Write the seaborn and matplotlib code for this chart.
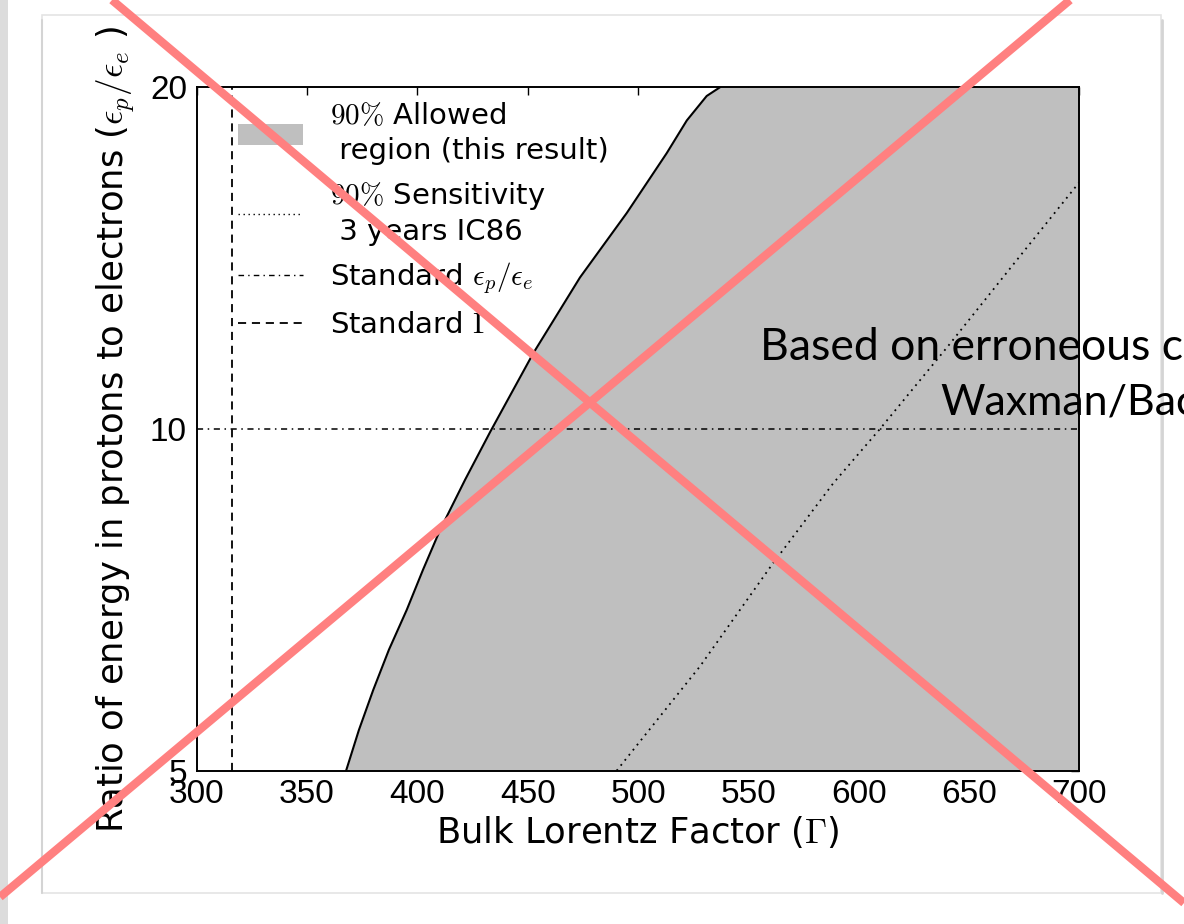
import numpy as np
import pandas as pd
import matplotlib
matplotlib.use("Agg")
import matplotlib.pyplot as plt
import seaborn as sns
from matplotlib.lines import Line2D
from matplotlib.patches import Patch, Rectangle

# ---------------- data ----------------
allowed_gamma = [367.7, 373.5, 380.0, 387.1, 395.2, 402.6, 410.3, 421.6, 433.1,
                 452.5, 473.7, 494.9, 513.0, 522.1, 531.1, 537.1]
allowed_ratio = [5.0, 5.43, 5.89, 6.39, 6.93, 7.52, 8.15, 9.02, 9.95,
                 11.66, 13.6, 15.5, 17.5, 18.7, 19.65, 20.0]

sens_gamma = [490.3, 500.0, 528.1, 560.6, 588.5, 609.6, 640.0, 670.0, 700.0]
sens_ratio = [5.0, 5.28, 6.18, 7.59, 8.96, 10.0, 11.8, 13.96, 16.5]

standard_ratio = 10.0
standard_gamma = 316.0

x_ticks = [300, 350, 400, 450, 500, 550, 600, 650, 700]
y_ticks = [5, 10, 20]
y_tick_labels = ["5", "10", "20"]

legend_labels = [
    "$90\\%$ Allowed\n region (this result)",
    "$90\\%$ Sensitivity\n 3 years IC86",
    "Standard $\\epsilon_p/\\epsilon_e$",
    "Standard $\\Gamma$",
]
x_label = "Bulk Lorentz Factor ($\\Gamma$)"
y_label = "Ratio of energy in protons to electrons ($\\epsilon_p/\\epsilon_e$ )"
slide_lines = ["Based on erroneous c", "Waxman/Bac"]

# ---------------- style ----------------
sns.set_theme(style="white")
plt.rcParams["font.family"] = ["Liberation Sans", "DejaVu Sans"]
plt.rcParams["mathtext.fontset"] = "cm"
label_family = ["DejaVu Sans"]

W, H = 1184, 924
fig = plt.figure(figsize=(W / 100, H / 100), dpi=100)
fig.patch.set_facecolor("white")

def fx(px):
    return px / W

def fy(py):
    return 1 - py / H

ax = fig.add_axes([fx(196.7), fy(770.7), fx(1079.4) - fx(196.7), fy(87.3) - fy(770.7)])
ax.set_facecolor("white")

allowed = pd.DataFrame({"gamma": allowed_gamma, "ratio": allowed_ratio})
sens = pd.DataFrame({"gamma": sens_gamma, "ratio": sens_ratio})

fill_color = "#bfbfbf"
ax.fill_betweenx(allowed["ratio"], allowed["gamma"], 700, color=fill_color, lw=0, zorder=1)
sns.lineplot(data=allowed, x="gamma", y="ratio", ax=ax, color="black", lw=1.5, sort=False,
             estimator=None, zorder=3)
sns.lineplot(data=sens, x="gamma", y="ratio", ax=ax, color="black", lw=1.3,
             estimator=None, zorder=3, dashes=False)
sens_line = ax.lines[-1]
sens_line.set_dashes((1, 2.6))

ax.axhline(standard_ratio, color="black", lw=1.1, dashes=(4, 3, 1, 3), zorder=3)
ax.axvline(standard_gamma, color="black", lw=1.3, dashes=(4.5, 3.2), zorder=3)

ax.set_yscale("log")
ax.set_xlim(300, 700)
ax.set_ylim(5, 20)
ax.set_xticks(x_ticks)
ax.set_xticklabels([str(t) for t in x_ticks])
ax.set_yticks(y_ticks)
ax.set_yticklabels(y_tick_labels)
ax.yaxis.set_minor_locator(matplotlib.ticker.NullLocator())
ax.tick_params(axis="both", which="major", direction="in", top=True, right=True,
               length=6, width=1, labelsize=24, colors="black", pad=6)
ax.tick_params(axis="y", pad=7)
for s in ax.spines.values():
    s.set_color("black")
    s.set_linewidth(1.4)

ax.set_xlabel(x_label, fontsize=25.5, color="black", family=label_family)
ax.set_ylabel(y_label, fontsize=25.5, color="black", family=label_family)
ax.xaxis.set_label_coords(0.5, -0.064)
ax.xaxis.label.set_va("top")
ax.yaxis.set_label_coords(-0.068, 0.5)

handles = [
    Patch(facecolor=fill_color, edgecolor="none"),
    Line2D([], [], color="black", lw=1.0, dashes=(1, 2.6)),
    Line2D([], [], color="black", lw=1.0, dashes=(4, 3, 1, 3)),
    Line2D([], [], color="black", lw=1.3, dashes=(4.5, 3.2)),
]
leg = ax.legend(handles, legend_labels, loc="upper left", frameon=False,
                prop={"family": label_family, "size": 21},
                handlelength=2.23, handletextpad=0.92, borderaxespad=0, borderpad=0,
                labelspacing=0.5, bbox_to_anchor=(0.047, 0.978))
for t in leg.get_texts():
    t.set_color("black")
    t.set_linespacing(1.3)

# ---------------- slide decorations ----------------
fig.add_artist(Rectangle((0, 0), fx(8), 1, transform=fig.transFigure,
                         facecolor="#dcdcdc", edgecolor="none", zorder=-2))
fig.add_artist(Rectangle((fx(42), fy(893)), fx(1161) - fx(42), fy(15) - fy(893),
                         transform=fig.transFigure, facecolor="none",
                         edgecolor="#e4e4e4", lw=1.2, zorder=-1))
fig.add_artist(Line2D([fx(1162), fx(1162)], [fy(20), fy(893)], transform=fig.transFigure,
                      color="#d4d4d4", lw=2, zorder=-1))
fig.add_artist(Line2D([fx(42), fx(42)], [fy(20), fy(893)], transform=fig.transFigure,
                      color="#d4d4d4", lw=1.5, zorder=-1))

fig.text(fx(760), fy(360), slide_lines[0], fontsize=32, family=["Lato", "DejaVu Sans"],
         ha="left", va="baseline", color="black", zorder=5)
fig.text(fx(940), fy(415), slide_lines[1], fontsize=31, family=["Lato", "DejaVu Sans"],
         ha="left", va="baseline", color="black", zorder=5)

red = "#ff8080"
fig.add_artist(Line2D([fx(112), fx(1184)], [fy(0), fy(903)], transform=fig.transFigure,
                      color=red, lw=6, solid_capstyle="butt", zorder=20))
fig.add_artist(Line2D([fx(1070), fx(0)], [fy(0), fy(897)], transform=fig.transFigure,
                      color=red, lw=6, solid_capstyle="butt", zorder=20))

fig.savefig("out.png", dpi=100)
